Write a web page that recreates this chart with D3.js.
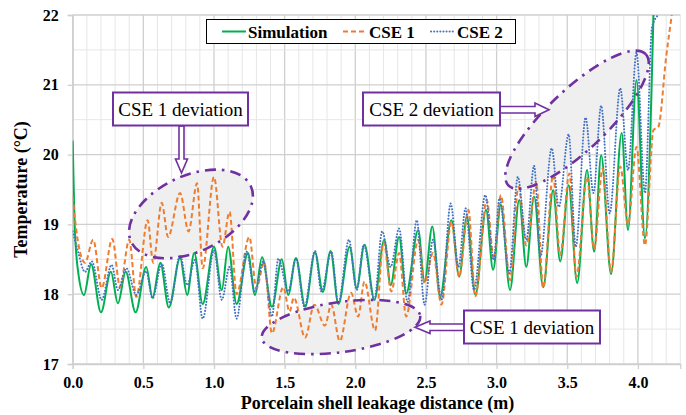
<!DOCTYPE html>
<html>
<head>
<meta charset="utf-8">
<script src="https://cdn.jsdelivr.net/npm/d3@7"></script>
<style>
  body { margin: 0; background: #fff; }
  svg { display: block; font-family: "Liberation Serif", "Times New Roman", serif; }
</style>
</head>
<body>
<svg id="chart" width="686" height="415"></svg>
<script>
// data: [distance (m), temperature (°C)], peaks and troughs
var simulation = [
  [0, 20.2], [0.016, 18.9], [0.04, 18.3], [0.08, 17.99], [0.13, 18.43], [0.20, 17.74], [0.27, 18.32],
  [0.32, 17.87], [0.375, 18.32], [0.445, 17.74], [0.52, 18.39], [0.565, 17.95], [0.62, 18.45],
  [0.68, 17.81], [0.76, 18.52], [0.81, 17.99], [0.86, 18.59], [0.92, 17.86], [1.00, 18.68],
  [1.055, 18.06], [1.10, 18.68], [1.16, 17.86], [1.24, 18.59], [1.29, 17.99], [1.34, 18.53],
  [1.41, 17.82], [1.48, 18.50], [1.525, 17.99], [1.58, 18.52], [1.645, 17.82], [1.715, 18.60],
  [1.77, 18.03], [1.825, 18.62], [1.88, 17.86], [1.96, 18.68], [2.01, 18.09], [2.065, 18.71],
  [2.135, 17.92], [2.205, 18.78], [2.25, 18.13], [2.31, 18.82], [2.36, 18.01], [2.445, 18.92],
  [2.49, 18.18], [2.545, 18.97], [2.60, 17.96], [2.68, 19.06], [2.735, 18.25], [2.79, 19.11],
  [2.85, 17.99], [2.925, 19.21], [2.975, 18.35], [3.03, 19.28], [3.095, 18.06], [3.16, 19.35],
  [3.21, 18.39], [3.265, 19.40], [3.33, 18.10], [3.40, 19.49], [3.45, 18.47], [3.51, 19.56],
  [3.57, 18.16], [3.64, 19.78], [3.69, 18.61], [3.74, 19.99], [3.81, 18.29], [3.885, 20.31],
  [3.93, 18.92], [3.99, 21.07], [4.05, 18.80], [4.11, 22.0]
];
var cse1 = [
  [0, 19.4], [0.03, 18.85], [0.087, 18.45], [0.145, 18.78], [0.205, 18.09], [0.28, 18.79],
  [0.335, 18.11], [0.40, 18.78], [0.45, 17.96], [0.53, 19.06], [0.57, 18.45], [0.63, 19.31],
  [0.675, 18.82], [0.76, 19.45], [0.82, 18.90], [0.88, 19.59], [0.92, 18.37], [1.00, 19.68],
  [1.06, 18.68], [1.11, 19.18], [1.16, 18.0], [1.25, 18.82], [1.30, 18.08], [1.355, 18.46],
  [1.41, 17.44], [1.49, 18.10], [1.535, 17.75], [1.565, 17.95], [1.645, 17.38], [1.71, 17.85],
  [1.785, 17.55], [1.83, 17.85], [1.89, 17.33], [1.97, 18.02], [2.02, 17.68], [2.065, 18.18],
  [2.14, 17.48], [2.20, 18.75], [2.255, 18.04], [2.31, 18.59], [2.36, 17.68], [2.445, 18.78],
  [2.49, 18.16], [2.55, 18.59], [2.61, 17.85], [2.68, 19.04], [2.735, 18.25], [2.80, 19.21],
  [2.85, 17.97], [2.93, 19.35], [2.98, 18.51], [3.03, 19.42], [3.095, 18.2], [3.155, 19.54],
  [3.21, 18.7], [3.28, 19.6], [3.33, 18.09], [3.40, 19.71], [3.45, 18.56], [3.515, 19.73],
  [3.565, 18.25], [3.64, 19.68], [3.69, 18.65], [3.75, 19.8], [3.81, 18.32], [3.875, 19.83],
  [3.93, 19.0], [3.99, 20.11], [4.05, 18.70], [4.11, 20.35], [4.145, 20.40], [4.20, 21.40], [4.24, 22.0]
];
var cse2 = [
  [0, 18.9], [0.035, 18.63], [0.087, 18.32], [0.135, 18.47], [0.205, 17.92], [0.275, 18.42],
  [0.32, 18.06], [0.38, 18.37], [0.45, 17.99], [0.52, 18.33], [0.565, 17.94], [0.63, 18.44],
  [0.69, 17.87], [0.76, 18.56], [0.81, 18.13], [0.865, 18.49], [0.92, 17.65], [1.00, 18.63],
  [1.055, 17.92], [1.11, 18.39], [1.16, 17.65], [1.23, 18.61], [1.29, 18.04], [1.35, 18.47],
  [1.41, 17.68], [1.455, 18.51], [1.525, 18.04], [1.58, 18.51], [1.64, 17.82], [1.715, 18.62],
  [1.76, 18.04], [1.83, 18.61], [1.88, 17.87], [1.955, 18.78], [2.01, 18.06], [2.06, 18.71],
  [2.135, 17.92], [2.19, 18.90], [2.25, 18.39], [2.31, 18.94], [2.37, 17.89], [2.435, 19.06],
  [2.49, 17.85], [2.55, 18.78], [2.61, 17.92], [2.675, 19.30], [2.73, 18.39], [2.78, 19.23],
  [2.84, 18.06], [2.92, 19.42], [2.98, 18.49], [3.02, 19.37], [3.09, 18.30], [3.15, 19.68],
  [3.21, 18.78], [3.265, 19.84], [3.31, 18.54], [3.39, 20.09], [3.44, 19.25], [3.51, 20.29],
  [3.56, 18.68], [3.63, 20.53], [3.685, 19.45], [3.74, 20.70], [3.80, 19.16], [3.875, 20.95],
  [3.93, 19.78], [3.99, 21.46], [4.05, 19.45], [4.10, 21.83], [4.145, 22.0]
];
var seriesNames = ["Simulation", "CSE 1", "CSE 2"];
var xTicks = [0, 0.5, 1.0, 1.5, 2.0, 2.5, 3.0, 3.5, 4.0];
var yTicks = [17, 18, 19, 20, 21, 22];
var notes = ["CSE 1 deviation", "CSE 2 deviation", "CSE 1 deviation"];

var svg = d3.select("#chart");
var pLeft = 72.7, pRight = 680.3, pTop = 15, pBottom = 364;
var x = d3.scaleLinear().domain([0, 4.3]).range([pLeft, pRight]);
var y = d3.scaleLinear().domain([17, 22]).range([pBottom, pTop]);
var purple = "#7030A0";

// grid
var g = svg.append("g");
g.selectAll(".vg").data(d3.range(0, 44).map(i => i / 10))
  .enter().append("line")
  .attr("x1", d => x(d)).attr("x2", d => x(d))
  .attr("y1", pTop).attr("y2", pBottom)
  .attr("stroke", (d, i) => i % 5 === 0 ? "#cfcfcf" : "#e6e6e6")
  .attr("stroke-width", (d, i) => i % 5 === 0 ? 1.3 : 1);
g.selectAll(".hg").data(d3.range(0, 11).map(i => 17 + i / 2))
  .enter().append("line")
  .attr("x1", pLeft).attr("x2", pRight)
  .attr("y1", d => y(d)).attr("y2", d => y(d))
  .attr("stroke", (d, i) => i % 2 === 0 ? "#cfcfcf" : "#e6e6e6")
  .attr("stroke-width", (d, i) => i % 2 === 0 ? 1.3 : 1);

// axes
var xAxis = svg.append("g").attr("transform", "translate(0," + pBottom + ")")
  .call(d3.axisBottom(x).tickValues(xTicks).tickFormat(d3.format(".1f")).tickSize(5).tickPadding(8));
var yAxis = svg.append("g").attr("transform", "translate(" + pLeft + ",0)")
  .call(d3.axisLeft(y).tickValues(yTicks).tickFormat(d3.format("d")).tickSize(5).tickPadding(9));
[xAxis, yAxis].forEach(function(a) {
  a.select(".domain").attr("stroke", "#cfcfcf").attr("stroke-width", 1.3);
  a.selectAll(".tick line").attr("stroke", "#cfcfcf").attr("stroke-width", 1.3);
  a.selectAll("text").attr("fill", "#000").style("font-size", "16px").style("font-weight", "bold")
    .style("font-family", "'Liberation Serif', 'Times New Roman', serif");
});

svg.append("text").attr("x", (pLeft + pRight) / 2 + 1).attr("y", 409)
  .attr("text-anchor", "middle").style("font-size", "18px").style("font-weight", "bold")
  .text("Porcelain shell leakage distance (m)");
svg.append("text").attr("transform", "translate(27," + ((pTop + pBottom) / 2) + ") rotate(-90)")
  .attr("text-anchor", "middle").style("font-size", "18px").style("font-weight", "bold")
  .text("Temperature (°C)");

// deviation ellipses (center in data units, radii in px)
var ellipses = [
  { cx: 0.837, cy: 19.15, rx: 66, ry: 38, rot: -25 },
  { cx: 3.569, cy: 20.50, rx: 95, ry: 30, rot: -43.7 },
  { cx: 1.899, cy: 17.53, rx: 80, ry: 25, rot: -8 }
];
function drawEllipses(sel) {
  return sel.selectAll("ellipse").data(ellipses).enter().append("ellipse")
    .attr("transform", d => "translate(" + x(d.cx) + "," + y(d.cy) + ") rotate(" + d.rot + ")")
    .attr("rx", d => d.rx).attr("ry", d => d.ry);
}
drawEllipses(svg.append("g")).attr("fill", "#efefef");

// lines
svg.append("clipPath").attr("id", "clip").append("rect")
  .attr("x", pLeft).attr("y", pTop).attr("width", pRight - pLeft).attr("height", pBottom - pTop);
var line = d3.line().x(d => x(d[0])).y(d => y(d[1])).curve(d3.curveMonotoneX);
var styles = [
  { data: simulation, color: "#00B050", dash: null, cap: "butt" },
  { data: cse1, color: "#ED7D31", dash: "5,3", cap: "butt" },
  { data: cse2, color: "#4472C4", dash: "0.1,3", cap: "round" }
];
var lg = svg.append("g").attr("clip-path", "url(#clip)");
styles.forEach(function(s) {
  lg.append("path").datum(s.data).attr("d", line)
    .attr("fill", "none").attr("stroke", s.color).attr("stroke-width", 2)
    .attr("stroke-dasharray", s.dash).attr("stroke-linecap", s.cap);
});

// ellipse outlines on top of the lines
drawEllipses(svg.append("g")).attr("fill", "none")
  .attr("stroke", purple).attr("stroke-width", 2.6).attr("stroke-dasharray", "11,6,2.5,6");

// legend
var leg = svg.append("g");
leg.append("rect").attr("x", 206.5).attr("y", 19.5).attr("width", 309).attr("height", 24)
  .attr("fill", "#fff").attr("stroke", "#000").attr("stroke-width", 1);
var legX = [222, 343, 431];
seriesNames.forEach(function(name, i) {
  var s = styles[i];
  leg.append("line").attr("x1", legX[i]).attr("x2", legX[i] + 24).attr("y1", 31.5).attr("y2", 31.5)
    .attr("stroke", s.color).attr("stroke-width", 2).attr("stroke-dasharray", s.dash)
    .attr("stroke-linecap", s.cap);
  leg.append("text").attr("x", legX[i] + 26).attr("y", 37.5)
    .style("font-size", "17px").style("font-weight", "bold").text(name);
});

// annotation boxes and hollow arrows
var boxes = [
  { x: 113, y: 92.5, w: 135, h: 33 },
  { x: 363, y: 92.5, w: 137, h: 33 },
  { x: 464, y: 310.5, w: 136, h: 33 }
];
var arrows = [
  [[179, 126], [184, 126], [184, 159], [187.5, 159], [181.5, 173], [175.5, 159], [179, 159]],
  [[500, 106.5], [535, 106.5], [535, 103], [549, 109.7], [535, 116.4], [535, 113], [500, 113]],
  [[464, 324], [430, 324], [430, 321], [415, 327.3], [430, 333.6], [430, 330.5], [464, 330.5]]
];
var ag = svg.append("g");
arrows.forEach(function(p) {
  ag.append("path").attr("d", d3.line()(p) + "Z")
    .attr("fill", "#fff").attr("stroke", purple).attr("stroke-width", 1.6);
});
boxes.forEach(function(b, i) {
  ag.append("rect").attr("x", b.x).attr("y", b.y).attr("width", b.w).attr("height", b.h)
    .attr("fill", "#fff").attr("stroke", purple).attr("stroke-width", 2);
  ag.append("text").attr("x", b.x + b.w / 2).attr("y", b.y + b.h / 2 + 6.5)
    .attr("text-anchor", "middle").style("font-size", "19px").text(notes[i]);
});
</script>
</body>
</html>
